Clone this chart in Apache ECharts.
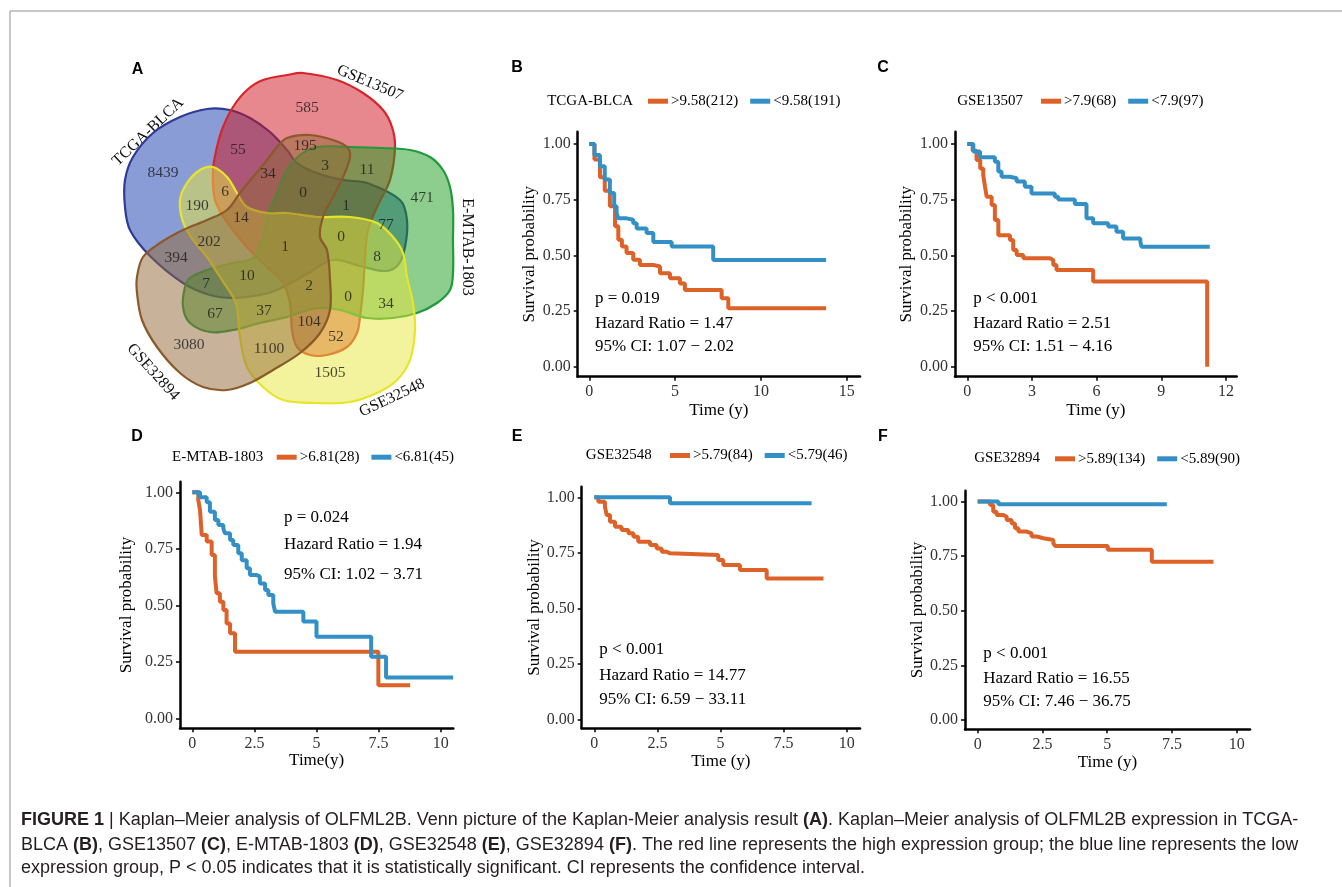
<!DOCTYPE html>
<html>
<head>
<meta charset="utf-8">
<script src="https://cdn.jsdelivr.net/npm/echarts@6/dist/echarts.min.js"></script>
<style>
html,body{margin:0;padding:0;background:#fff}
#main{width:1342px;height:887px}
</style>
</head>
<body>
<div id="main"></div>
<script>
// ---- panel A : venn counts ----
const vennSets = ['TCGA-BLCA', 'GSE13507', 'E-MTAB-1803', 'GSE32548', 'GSE32894'];
const vennCounts = [8439, 585, 471, 1505, 3080, 55, 195, 3, 11, 34, 0, 1, 77, 6, 190, 14, 1, 0, 8, 202, 394, 10, 2, 7, 0, 34, 67, 37, 104, 52, 1100];

// ---- panels B-F : KM curves [time, survival] ----
const kmB_high = [[0,1],[0.3,0.93],[0.62,0.85],[0.9,0.79],[1.2,0.72],[1.5,0.63],[1.69,0.57],[1.9,0.54],[2.17,0.51],[2.56,0.48],[2.95,0.457],[3.73,0.45],[4.12,0.42],[4.7,0.397],[5.28,0.374],[5.57,0.344],[7.71,0.307],[8.1,0.262],[13.8,0.262]];
const kmB_low = [[0,1],[0.3,0.95],[0.62,0.9],[0.9,0.84],[1.2,0.78],[1.45,0.72],[1.59,0.69],[1.69,0.666],[2.17,0.66],[2.56,0.644],[2.76,0.62],[3.34,0.6],[3.73,0.56],[4.8,0.54],[7.22,0.479],[13.8,0.479]];
const kmC_high = [[0,1],[0.25,0.97],[0.43,0.928],[0.6,0.89],[0.74,0.86],[0.82,0.81],[0.9,0.763],[1.13,0.726],[1.28,0.659],[1.44,0.59],[1.98,0.569],[2.13,0.524],[2.29,0.501],[2.6,0.487],[3.83,0.479],[3.99,0.457],[4.14,0.434],[5.84,0.382],[11.13,0]];
const kmC_low = [[0,1],[0.28,0.966],[0.59,0.94],[1.05,0.94],[1.28,0.92],[1.44,0.876],[1.59,0.853],[1.98,0.846],[2.29,0.831],[2.67,0.808],[2.98,0.778],[4.06,0.763],[4.22,0.751],[4.99,0.73],[5.53,0.666],[5.84,0.644],[6.54,0.629],[6.92,0.606],[7.23,0.576],[8.03,0.561],[8.08,0.539],[11.25,0.539]];
const kmD_high = [[0,1],[0.24,0.966],[0.31,0.922],[0.38,0.811],[0.58,0.782],[0.78,0.723],[0.91,0.627],[0.98,0.553],[1.11,0.516],[1.25,0.479],[1.38,0.42],[1.52,0.376],[1.72,0.295],[7.49,0.147],[8.77,0.147]];
const kmD_low = [[0,1],[0.31,0.978],[0.58,0.956],[0.71,0.914],[0.91,0.878],[1.05,0.855],[1.25,0.84],[1.31,0.819],[1.52,0.789],[1.65,0.767],[1.85,0.73],[1.99,0.7],[2.19,0.664],[2.32,0.634],[2.59,0.627],[2.72,0.597],[2.93,0.568],[3.06,0.546],[3.26,0.509],[3.33,0.472],[4.47,0.428],[5.0,0.361],[7.2,0.273],[7.8,0.181],[10.5,0.181]];
const kmE_high = [[0,1],[0.16,0.98],[0.42,0.958],[0.49,0.92],[0.62,0.89],[0.82,0.868],[1.08,0.853],[1.35,0.838],[1.55,0.823],[1.74,0.8],[2.21,0.785],[2.47,0.77],[2.67,0.755],[2.87,0.748],[3.0,0.74],[4.91,0.718],[5.11,0.695],[5.77,0.673],[6.83,0.635],[9.08,0.635]];
const kmE_low = [[0,1],[3.0,0.973],[8.61,0.973]];
const kmF_high = [[0,1],[0.48,0.985],[0.6,0.954],[0.73,0.939],[0.99,0.931],[1.12,0.916],[1.31,0.9],[1.44,0.878],[1.57,0.863],[1.89,0.855],[2.08,0.84],[2.28,0.832],[2.54,0.824],[2.92,0.809],[2.99,0.797],[5.02,0.779],[6.72,0.725],[9.1,0.725]];
const kmF_low = [[0,1],[0.8,0.988],[7.3,0.988]];

// legend labels and stats
const cohorts = ['TCGA-BLCA', 'GSE13507', 'E-MTAB-1803', 'GSE32548', 'GSE32894'];
const groupHigh = ['>9.58(212)', '>7.9(68)', '>6.81(28)', '>5.79(84)', '>5.89(134)'];
const groupLow = ['<9.58(191)', '<7.9(97)', '<6.81(45)', '<5.79(46)', '<5.89(90)'];
const pText = ['p = 0.019', 'p < 0.001', 'p = 0.024', 'p < 0.001', 'p < 0.001'];
const hrText = ['Hazard Ratio = 1.47', 'Hazard Ratio = 2.51', 'Hazard Ratio = 1.94', 'Hazard Ratio = 14.77', 'Hazard Ratio = 16.55'];
const ciText = ['95% CI: 1.07 \u2212 2.02', '95% CI: 1.51 \u2212 4.16', '95% CI: 1.02 \u2212 3.71', '95% CI: 6.59 \u2212 33.11', '95% CI: 7.46 \u2212 36.75'];
const xTicksB = [0, 5, 10, 15];
const xTicksC = [0, 3, 6, 9, 12];
const xTicksDEF = [0, 2.5, 5, 7.5, 10];
const yTicks = [0, 0.25, 0.5, 0.75, 1];

// ---- layout (not data) ----
// venn outlines, in the venn frame coordinates
const vennShapes = [
    [[230,110],[250,118],[270,132],[287,150],[297,163],[317,173],[343,180],[367,183],[400,200],[407,220],[405,247],[398,265],[385,271],[360,266],[333,260],[307,274],[277,290],[260,295],[233,298],[210,295],[183,283],[150,256],[130,230],[125,207],[125,180],[133,157],[153,133],[180,117],[207,109]],
    [[213,170],[217,147],[223,127],[233,107],[247,90],[263,80],[287,75],[303,73],[337,80],[363,93],[383,110],[392,127],[395,147],[390,180],[378,205],[368,230],[365,260],[363,290],[360,317],[357,333],[347,347],[327,355],[310,355],[297,347],[292,330],[290,303],[283,283],[270,270],[247,247],[227,222],[215,200]],
    [[300,155],[317,147],[350,147],[383,148],[410,150],[430,157],[443,170],[450,187],[453,210],[453,240],[453,273],[450,290],[437,303],[417,313],[393,318],[367,318],[340,310],[317,308],[287,317],[260,323],[233,330],[210,332],[190,323],[183,307],[185,287],[190,278],[207,270],[233,263],[253,258],[262,240],[267,217],[277,193],[287,170]],
    [[213,167],[227,177],[237,193],[247,207],[267,213],[287,213],[317,217],[350,217],[377,223],[393,237],[403,253],[407,277],[413,303],[415,330],[410,360],[397,380],[377,393],[350,402],[317,403],[283,400],[263,387],[247,367],[240,337],[237,307],[233,297],[220,277],[207,257],[193,240],[183,222],[180,200],[187,183],[200,170]],
    [[287,138],[310,135],[333,140],[347,147],[350,157],[343,177],[333,197],[323,217],[320,237],[327,250],[330,280],[330,310],[320,333],[300,353],[273,370],[250,383],[227,390],[203,387],[180,373],[157,347],[142,320],[137,293],[137,277],[143,257],[160,243],[183,230],[207,220],[227,210],[240,193],[253,177],[267,160],[277,147]]
];
const vennFill = ['rgba(22,58,172,0.5)', 'rgba(205,18,28,0.5)', 'rgba(28,156,28,0.5)', 'rgba(232,232,62,0.5)', 'rgba(146,104,54,0.5)'];
const vennStroke = ['#2d3b97', '#d7262b', '#1f9a3c', '#e6e52a', '#8a5a2b'];
const vennLabelPos = [[163,173],[307,108],[422,198],[330,373],[189,345],[238,150],[305,146],[325,166],[367,170],[268,174],[303,193],[346,206],[386,225],[225,192],[197,206],[241,218],[285,247],[341,237],[377,257],[209,242],[176,258],[247,276],[309,286],[206,284],[348,297],[386,304],[215,314],[264,311],[309,322],[336,337],[269,349]];
const vennSetLabel = [[148,132,0.76],[370,83,-0.40],[467,247,-Math.PI/2],[392,398,0.44],[153,372,-0.84]];

const SERIF = "'Liberation Serif','Times New Roman',serif";
const SANS = "'Liberation Sans',Arial,sans-serif";
const ORANGE = '#de6127';
const BLUE = '#3390c6';

const panels = [
    { letter: 'B', grid: { left: 577.7, top: 131.7, width: 282.3, height: 245 }, x: [-0.676, 15.775], y: [-0.045, 1.055], ticks: xTicksB, xName: 'Time (y)', xGap: 25, yGap: 40, legLeft: 643, legY: 100.7, titleRight: 633, stats: [595, 298.3, 323.3, 346.7], high: kmB_high, low: kmB_low },
    { letter: 'C', grid: { left: 955, top: 131.7, width: 281.7, height: 245 }, x: [-0.57, 12.5], y: [-0.045, 1.055], ticks: xTicksC, xName: 'Time (y)', xGap: 25, yGap: 40, legLeft: 1036, legY: 100.7, titleRight: 1023, stats: [973.3, 298.3, 323.3, 346.7], high: kmC_high, low: kmC_low },
    { letter: 'D', grid: { left: 180, top: 481.7, width: 273.3, height: 246.6 }, x: [-0.495, 10.507], y: [-0.044, 1.047], ticks: xTicksDEF, xName: 'Time(y)', xGap: 23, yGap: 45, legLeft: 271.7, legY: 456.7, titleRight: 263.3, stats: [284, 517.3, 545, 575], high: kmD_high, low: kmD_low },
    { letter: 'E', grid: { left: 581.7, top: 486.7, width: 278.3, height: 241.6 }, x: [-0.5, 10.527], y: [-0.04, 1.048], ticks: xTicksDEF, xName: 'Time (y)', xGap: 25, yGap: 38, legLeft: 665, legY: 455, titleRight: 651.7, stats: [599.3, 650, 676, 700], high: kmE_high, low: kmE_low },
    { letter: 'F', grid: { left: 965, top: 490.7, width: 285, height: 238.6 }, x: [-0.49, 10.51], y: [-0.043, 1.05], ticks: xTicksDEF, xName: 'Time (y)', xGap: 25, yGap: 38, legLeft: 1050, legY: 458.3, titleRight: 1040, stats: [983.3, 653.3, 678.3, 701.7], high: kmF_high, low: kmF_low }
];
const letterPos = [[137.5, 70], [517, 68], [883, 68], [137, 437], [517, 437], [883, 437]];

const grid = [], xAxis = [], yAxis = [], series = [], legend = [], graphic = [];

panels.forEach((p, i) => {
    grid.push(p.grid);
    xAxis.push({
        type: 'value', gridIndex: i, min: p.x[0], max: p.x[1],
        name: p.xName, nameLocation: 'middle', nameGap: p.xGap,
        nameTextStyle: { fontFamily: SERIF, fontSize: 17, color: '#000' },
        axisLine: { show: true, onZero: false, lineStyle: { color: '#000', width: 2.5 } },
        axisTick: { show: true, length: 4, customValues: p.ticks, lineStyle: { color: '#000', width: 1.5 } },
        axisLabel: { customValues: p.ticks, margin: 7, fontFamily: SERIF, fontSize: 16, color: '#333', formatter: v => String(v) },
        splitLine: { show: false }
    });
    yAxis.push({
        type: 'value', gridIndex: i, min: p.y[0], max: p.y[1],
        name: 'Survival probability', nameLocation: 'middle', nameGap: p.yGap,
        nameTextStyle: { fontFamily: SERIF, fontSize: 17, color: '#000' },
        axisLine: { show: true, onZero: false, lineStyle: { color: '#000', width: 2.5 } },
        axisTick: { show: true, length: 4, customValues: yTicks, lineStyle: { color: '#000', width: 1.5 } },
        axisLabel: { customValues: yTicks, margin: 7, fontFamily: SERIF, fontSize: 16, color: '#333', formatter: v => v.toFixed(2) },
        splitLine: { show: false }
    });
    series.push({
        name: groupHigh[i], type: 'line', xAxisIndex: i, yAxisIndex: i, step: 'end',
        data: p.high, showSymbol: false, symbol: 'none', silent: true,
        lineStyle: { color: ORANGE, width: 4 }, itemStyle: { color: ORANGE }
    });
    series.push({
        name: groupLow[i], type: 'line', xAxisIndex: i, yAxisIndex: i, step: 'end',
        data: p.low, showSymbol: false, symbol: 'none', silent: true,
        lineStyle: { color: BLUE, width: 4 }, itemStyle: { color: BLUE }
    });
    legend.push({
        left: p.legLeft, top: p.legY - 12, orient: 'horizontal', icon: 'rect',
        itemWidth: 20, itemHeight: 5, itemGap: 12, selectedMode: false,
        textStyle: { fontFamily: SERIF, fontSize: 15, color: '#000', padding: [0, 0, 0, -2] },
        data: [groupHigh[i], groupLow[i]]
    });
    graphic.push({ type: 'text', x: p.titleRight, y: p.legY, style: { text: cohorts[i], font: '15px ' + SERIF, fill: '#000', align: 'right', verticalAlign: 'middle', textAlign: 'right', textVerticalAlign: 'middle' } });
    [pText[i], hrText[i], ciText[i]].forEach((t, k) => {
        graphic.push({ type: 'text', x: p.stats[0], y: p.stats[k + 1], style: { text: t, font: '17px ' + SERIF, fill: '#000', align: 'left', verticalAlign: 'middle', textAlign: 'left', textVerticalAlign: 'middle' } });
    });
});

// venn frame (hidden cartesian)
const vi = panels.length;
grid.push({ left: 100, top: 50, width: 380, height: 370 });
xAxis.push({ type: 'value', gridIndex: vi, min: 100, max: 480, show: false });
yAxis.push({ type: 'value', gridIndex: vi, min: 50, max: 420, inverse: true, show: false });
series.push({
    type: 'custom', xAxisIndex: vi, yAxisIndex: vi, silent: true,
    data: vennSets.map((s, i) => [i]),
    renderItem: (params, api) => {
        const k = params.dataIndex;
        return {
            type: 'polygon',
            shape: { points: vennShapes[k].map(pt => api.coord(pt)), smooth: 0.35 },
            style: { fill: vennFill[k], stroke: vennStroke[k], lineWidth: 2.2 }
        };
    }
});
series.push({
    type: 'scatter', xAxisIndex: vi, yAxisIndex: vi, silent: true, symbolSize: 0, z: 5,
    data: vennCounts.map((c, i) => [vennLabelPos[i][0], vennLabelPos[i][1], c]),
    label: { show: true, position: 'inside', formatter: q => String(q.value[2]), fontFamily: SERIF, fontSize: 15.5, color: '#1a1a1a' }
});
vennSets.forEach((s, i) => {
    const l = vennSetLabel[i];
    graphic.push({ type: 'text', x: l[0], y: l[1], rotation: l[2], style: { text: s, font: '16px ' + SERIF, fill: '#111', align: 'center', verticalAlign: 'middle', textAlign: 'center', textVerticalAlign: 'middle' } });
});

// panel letters
['A', 'B', 'C', 'D', 'E', 'F'].forEach((L, i) => {
    graphic.push({ type: 'text', x: letterPos[i][0], y: letterPos[i][1], style: { text: L, font: 'bold 16px ' + SANS, fill: '#000', align: 'center', verticalAlign: 'middle', textAlign: 'center', textVerticalAlign: 'middle' } });
});

// frame lines
graphic.push({ type: 'line', shape: { x1: 10, y1: 11, x2: 1342, y2: 11 }, style: { stroke: '#b5b5b5', lineWidth: 1.5 } });
graphic.push({ type: 'line', shape: { x1: 10, y1: 11, x2: 10, y2: 887 }, style: { stroke: '#b5b5b5', lineWidth: 1.5 } });

// caption
const CAP = "'Liberation Sans',Arial,sans-serif";
const capLines = [
    '{b|FIGURE 1} | Kaplan\u2013Meier analysis of OLFML2B. Venn picture of the Kaplan-Meier analysis result {b|(A)}. Kaplan\u2013Meier analysis of OLFML2B expression in TCGA-',
    'BLCA {b|(B)}, GSE13507 {b|(C)}, E-MTAB-1803 {b|(D)}, GSE32548 {b|(E)}, GSE32894 {b|(F)}. The red line represents the high expression group; the blue line represents the low',
    'expression group, P < 0.05 indicates that it is statistically significant. CI represents the confidence interval.'
];
const capY = [820, 845, 868];
capLines.forEach((t, i) => {
    graphic.push({ type: 'text', x: 21, y: capY[i], style: { text: t, font: '18px ' + CAP, fill: '#231f20', align: 'left', verticalAlign: 'middle', textAlign: 'left', textVerticalAlign: 'middle', rich: { b: { fontWeight: 'bold', fontSize: 18, fontFamily: CAP, fill: '#231f20' } } } });
});

const chart = echarts.init(document.getElementById('main'));
chart.setOption({
    backgroundColor: '#fff',
    animation: false,
    grid: grid, xAxis: xAxis, yAxis: yAxis,
    legend: legend,
    series: series,
    graphic: graphic
});
</script>
</body>
</html>
